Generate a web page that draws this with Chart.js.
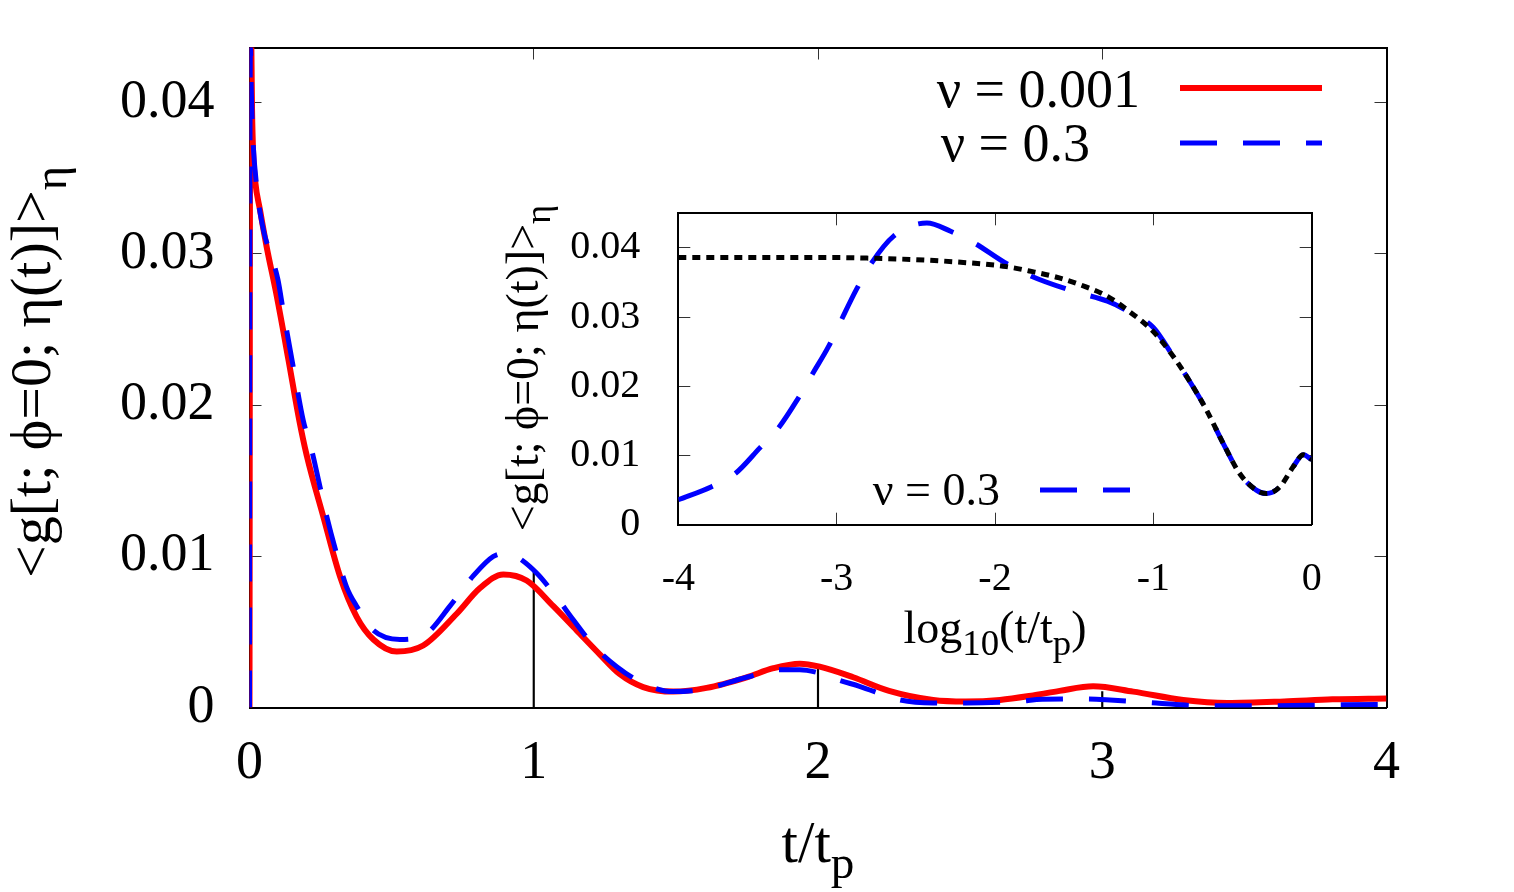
<!DOCTYPE html>
<html>
<head>
<meta charset="utf-8">
<script src="https://cdn.jsdelivr.net/npm/chart.js@4.4.1/dist/chart.umd.min.js"></script>
<style>
  body { margin: 0; background: #fff; }
  #wrap { position: relative; width: 1514px; height: 892px; }
  #inset { position: absolute; left: 480px; top: 190px; }
</style>
</head>
<body>
<div id="wrap">
  <canvas id="main" width="1514" height="892"></canvas>
  <canvas id="inset" width="860" height="490"></canvas>
</div>
<script>
// main panel: t/tp against <g>
const redT = [0, 0.003, 0.006, 0.009, 0.013, 0.02, 0.037, 0.06, 0.096, 0.137, 0.175, 0.201, 0.26, 0.318, 0.377, 0.436, 0.518, 0.611, 0.729, 0.811, 0.893, 0.975, 1.069, 1.151, 1.233, 1.303, 1.385, 1.491, 1.608, 1.749, 1.843, 1.936, 2.006, 2.124, 2.25, 2.405, 2.52, 2.64, 2.757, 2.85, 2.968, 3.109, 3.285, 3.44, 3.64, 3.81, 4.0];
const redG = [0, 0.052, 0.0445, 0.0395, 0.0366, 0.0348, 0.0329, 0.0305, 0.0272, 0.0230, 0.0190, 0.0167, 0.0126, 0.0087, 0.0060, 0.0045, 0.0037, 0.0041, 0.0062, 0.0079, 0.0088, 0.0084, 0.0067, 0.0051, 0.0035, 0.0022, 0.00135, 0.00105, 0.0013, 0.0020, 0.0026, 0.0029, 0.0027, 0.0020, 0.0011, 0.0005, 0.0004, 0.0005, 0.0008, 0.0011, 0.0014, 0.00105, 0.0005, 0.0003, 0.0004, 0.00054, 0.0006];

const blueT = [0, 0.001, 0.002, 0.0037, 0.006, 0.011, 0.025, 0.05, 0.078, 0.1, 0.119, 0.16, 0.189, 0.219, 0.248, 0.271, 0.306, 0.341, 0.377, 0.436, 0.529, 0.623, 0.705, 0.787, 0.858, 0.905, 0.928, 1.01, 1.08, 1.139, 1.21, 1.292, 1.385, 1.49, 1.596, 1.749, 1.866, 1.936, 2.0, 2.076, 2.146, 2.289, 2.405, 2.52, 2.7, 2.79, 2.945, 3.027, 3.19, 3.344, 3.578, 3.81, 4.0];
const blueG = [0, 0.028, 0.040, 0.0436, 0.041, 0.038, 0.0345, 0.0315, 0.0298, 0.0283, 0.0262, 0.0219, 0.0190, 0.0170, 0.0146, 0.0127, 0.0102, 0.0080, 0.0067, 0.0051, 0.0045, 0.0049, 0.0067, 0.0087, 0.0100, 0.0102, 0.0101, 0.0089, 0.0073, 0.0058, 0.0041, 0.0027, 0.0016, 0.00105, 0.0012, 0.0020, 0.0025, 0.0025, 0.0023, 0.0018, 0.0014, 0.0005, 0.0003, 0.0003, 0.0004, 0.00054, 0.00056, 0.0005, 0.0003, 0.00012, 0.00012, 0.00017, 0.0002];

const stemT = [1, 2, 3];
const stemG = [0.0090, 0.0027, 0.00105];

const mainXTicks = [0, 1, 2, 3, 4];
const mainYTicks = [0, 0.01, 0.02, 0.03, 0.04];
const mainYLabels = ['0', '0.01', '0.02', '0.03', '0.04'];

// inset: log10(t/tp) against <g>
const insetBlueLogT = [-4, -3.79, -3.64, -3.485, -3.37, -3.25, -3.15, -3.05, -2.97, -2.875, -2.78, -2.64, -2.43, -2.28, -2.13, -1.94, -1.77, -1.5, -1.29, -1.18, -1, -0.874, -0.77, -0.665, -0.56, -0.455, -0.35, -0.286, -0.2, -0.116, -0.053, 0];
const insetBlueG = [0.0036, 0.0055, 0.0074, 0.0111, 0.0139, 0.0180, 0.0219, 0.0258, 0.0296, 0.0340, 0.0378, 0.0417, 0.0436, 0.0424, 0.0407, 0.0379, 0.0359, 0.0337, 0.0323, 0.0311, 0.0285, 0.0243, 0.0207, 0.0166, 0.0118, 0.0074, 0.0050, 0.0045, 0.0055, 0.0084, 0.0101, 0.0094];

const dotLogT = [-4, -3.5, -3, -2.77, -2.5, -2.2, -1.93, -1.77, -1.6, -1.43, -1.29, -1.14, -1, -0.874, -0.77, -0.665, -0.56, -0.455, -0.35, -0.286, -0.2, -0.116, -0.053, 0];
const dotG = [0.0386, 0.0386, 0.0386, 0.0385, 0.0383, 0.0379, 0.0373, 0.0366, 0.0357, 0.0344, 0.0330, 0.0306, 0.0279, 0.0243, 0.0207, 0.0166, 0.0118, 0.0074, 0.0050, 0.0045, 0.0055, 0.0084, 0.0101, 0.0094];

const insetXTicks = [-4, -3, -2, -1, 0];
const insetXLabels = ['-4', '-3', '-2', '-1', '0'];
const insetYTicks = [0, 0.01, 0.02, 0.03, 0.04];
const insetYLabels = ['0', '0.01', '0.02', '0.03', '0.04'];

const FONT = 'Liberation Serif';

function pts(xs, ys) {
    return xs.map((x, i) => ({ x: x, y: ys[i] }));
}

// draw text with subscripts: parts = [[text, isSub], ...]
function richText(ctx, parts, x, y, size, align) {
    let w = 0;
    parts.forEach(p => {
        ctx.font = (p[1] ? size * 0.8 : size) + 'px "' + FONT + '"';
        w += ctx.measureText(p[0]).width;
    });
    let cx = align === 'center' ? x - w / 2 : (align === 'right' ? x - w : x);
    ctx.textAlign = 'left';
    ctx.textBaseline = 'alphabetic';
    parts.forEach(p => {
        ctx.font = (p[1] ? size * 0.8 : size) + 'px "' + FONT + '"';
        ctx.fillText(p[0], cx, y + (p[1] ? size * 0.27 : 0));
        cx += ctx.measureText(p[0]).width;
    });
}

function sampleLine(ctx, x1, x2, y, color, width, dash) {
    ctx.save();
    ctx.strokeStyle = color;
    ctx.lineWidth = width;
    ctx.setLineDash(dash);
    ctx.beginPath();
    ctx.moveTo(x1, y);
    ctx.lineTo(x2, y);
    ctx.stroke();
    ctx.restore();
}

// build an axis with fixed box size and inward ticks
function axis(pos, min, max, boxSize, tickVals, labels, fontSize, pad) {
    const horiz = pos === 'top' || pos === 'bottom';
    return {
        type: 'linear',
        position: pos,
        min: min,
        max: max,
        offset: false,
        afterBuildTicks: s => { s.ticks = tickVals.map(v => ({ value: v })); },
        afterFit: s => {
            if (horiz) s.height = boxSize; else s.width = boxSize;
            s.paddingTop = 0; s.paddingBottom = 0; s.paddingLeft = 0; s.paddingRight = 0;
        },
        ticks: {
            display: !!labels,
            autoSkip: false,
            maxRotation: 0,
            minRotation: 0,
            padding: pad || 0,
            color: '#000',
            font: { family: FONT, size: fontSize },
            callback: (v, i) => labels ? labels[i] : ''
        },
        grid: {
            offset: false,
            drawOnChartArea: false,
            drawTicks: true,
            tickLength: -12,
            tickColor: '#333',
            tickWidth: 1
        },
        border: { display: true, color: '#000', width: 2 }
    };
}

const mainText = {
    id: 'mainText',
    afterDraw(chart) {
        const ctx = chart.ctx;
        ctx.save();
        ctx.fillStyle = '#000';
        richText(ctx, [['t/t', 0], ['p', 1]], 818, 862, 59, 'center');
        ctx.translate(50, 372);
        ctx.rotate(-Math.PI / 2);
        richText(ctx, [['<g[t; \u03d5=0; \u03b7(t)]>', 0], ['\u03b7', 1]], 0, 0, 58, 'center');
        ctx.restore();
        ctx.save();
        ctx.fillStyle = '#000';
        richText(ctx, [['\u03bd = 0.001', 0]], 1140, 107, 54, 'right');
        richText(ctx, [['\u03bd = 0.3', 0]], 1090, 161, 54, 'right');
        ctx.restore();
        sampleLine(ctx, 1180, 1322, 88, '#ff0000', 6, []);
        sampleLine(ctx, 1180, 1322, 143, '#0000ff', 5, [37, 26]);
    }
};

new Chart(document.getElementById('main'), {
    type: 'line',
    data: {
        datasets: [
            {
                label: '\u03bd = 0.3',
                data: pts(blueT, blueG),
                borderColor: '#0000ff',
                borderWidth: 5,
                borderDash: [37, 26],
                pointRadius: 0,
                fill: false,
                cubicInterpolationMode: 'monotone',
                order: 1
            },
            {
                label: '\u03bd = 0.001',
                data: pts(redT, redG),
                borderColor: '#ff0000',
                borderWidth: 6,
                pointRadius: 0,
                fill: false,
                cubicInterpolationMode: 'monotone',
                order: 2
            },
            {
                type: 'bar',
                label: 'stems',
                data: pts(stemT, stemG),
                backgroundColor: '#000',
                borderWidth: 0,
                barThickness: 1.5,
                order: 3
            }
        ]
    },
    options: {
        responsive: false,
        animation: false,
        layout: { padding: 0 },
        plugins: { legend: { display: false }, tooltip: { enabled: false } },
        scales: {
            x: axis('bottom', 0, 4, 184.5, mainXTicks, mainXTicks.map(String), 54, 36),
            x2: axis('top', 0, 4, 47.5, mainXTicks, null, 54, 0),
            y: axis('left', 0, 0.04365, 249.5, mainYTicks, mainYLabels, 54, 47),
            y2: axis('right', 0, 0.04365, 127.5, mainYTicks, null, 54, 0)
        }
    },
    plugins: [mainText]
});

const insetText = {
    id: 'insetText',
    afterDraw(chart) {
        const ctx = chart.ctx;
        ctx.save();
        ctx.fillStyle = '#000';
        richText(ctx, [['log', 0], ['10', 1], ['(t/t', 0], ['p', 1], [')', 0]], 515, 453, 46, 'center');
        richText(ctx, [['\u03bd = 0.3', 0]], 520, 315, 46, 'right');
        ctx.translate(58, 178);
        ctx.rotate(-Math.PI / 2);
        richText(ctx, [['<g[t; \u03d5=0; \u03b7(t)]>', 0], ['\u03b7', 1]], 0, 0, 46, 'center');
        ctx.restore();
        sampleLine(ctx, 560, 650, 300, '#0000ff', 5, [37, 26]);
    }
};

new Chart(document.getElementById('inset'), {
    type: 'line',
    data: {
        datasets: [
            {
                label: 'dotted',
                data: pts(dotLogT, dotG),
                borderColor: '#000',
                borderWidth: 5,
                borderDash: [8, 6],
                pointRadius: 0,
                fill: false,
                cubicInterpolationMode: 'monotone',
                order: 1
            },
            {
                label: '\u03bd = 0.3',
                data: pts(insetBlueLogT, insetBlueG),
                borderColor: '#0000ff',
                borderWidth: 5,
                borderDash: [37, 26],
                pointRadius: 0,
                fill: false,
                cubicInterpolationMode: 'monotone',
                order: 2
            }
        ]
    },
    options: {
        responsive: false,
        animation: false,
        layout: { padding: 0 },
        plugins: { legend: { display: false }, tooltip: { enabled: false } },
        scales: {
            x: axis('bottom', -4, 0, 155.3, insetXTicks, insetXLabels, 40, 43),
            x2: axis('top', -4, 0, 23.3, insetXTicks, null, 40, 0),
            y: axis('left', 0, 0.045, 198.3, insetYTicks, insetYLabels, 40, 50),
            y2: axis('right', 0, 0.045, 28.3, insetYTicks, null, 40, 0)
        }
    },
    plugins: [insetText]
});
</script>
</body>
</html>
